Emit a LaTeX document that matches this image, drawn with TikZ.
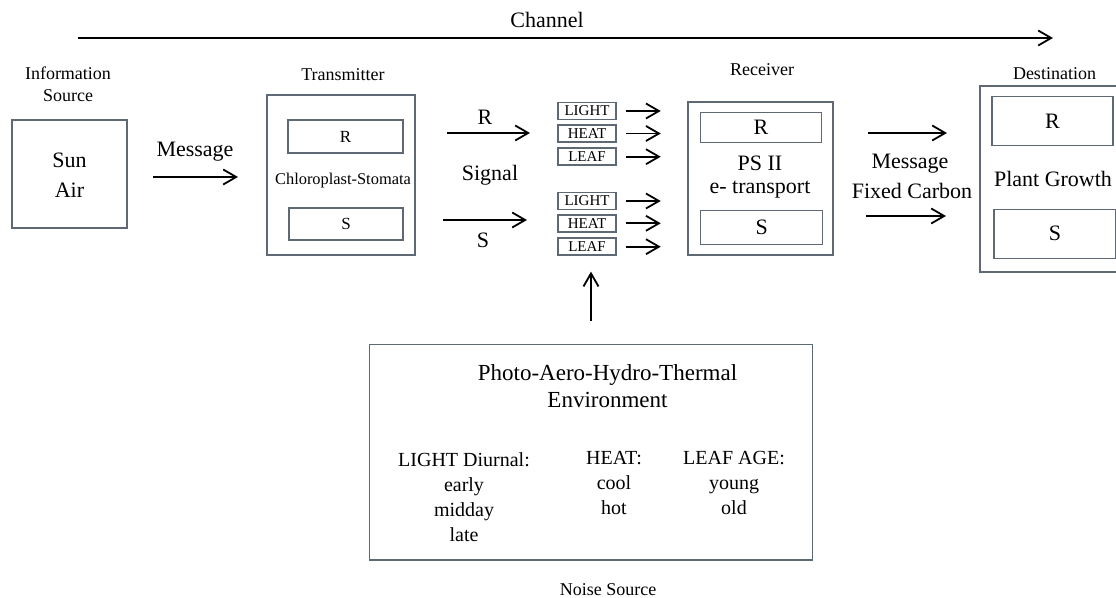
\documentclass[tikz,border=0pt]{standalone}
\usepackage{fontspec}
\setmainfont{Liberation Serif}
\usetikzlibrary{arrows.meta}

\begin{document}
\begin{tikzpicture}[x=0.5pt,y=-0.5pt]

  % Colour of the box outlines
  \definecolor{boxgray}{RGB}{95,105,118}

  \tikzset{
    box/.style={draw=boxgray, line width=0.75pt, inner sep=0pt},
    tag/.style={box, minimum width=29pt, minimum height=8.5pt, font=\fontsize{7.5}{8}\selectfont},
    arr/.style={-{Straight Barb[length=6.5pt,width=7.5pt]}, line width=0.9pt},
    big/.style={font=\fontsize{11}{15}\selectfont, align=center},
    mid/.style={font=\fontsize{9}{11}\selectfont, align=center},
    col/.style={font=\fontsize{10}{12.5}\selectfont, align=center, anchor=north}
  }

  \useasboundingbox (0,0) rectangle (1116,598);
  \clip (0,0) rectangle (1116,598);

  % Channel across the top
  \node[big] (channel) at (547,20) {Channel};
  \coordinate (chA) at (78,38);
  \coordinate (chB) at (1053,38);
  \draw[arr] (chA) -- (chB);

  % Information source
  \node[mid] (srclbl) at (68,84) {Information\\Source};
  \node[box, minimum width=57.5pt, minimum height=54pt] (src) at (69.5,174) {};
  \node[big] (srctxt) at (69.5,175) {Sun\\Air};

  % Message arrow
  \node[big] (msg) at (195,152) {Message};
  \coordinate (m1) at (153,177);
  \coordinate (m2) at (238,177);
  \draw[arr] (m1) -- (m2);

  % Transmitter
  \node[mid] (translbl) at (343,75) {Transmitter};
  \node[box, minimum width=74pt, minimum height=80pt] (trans) at (341,175) {};
  \node[box, minimum width=57.5pt, minimum height=16.5pt, font=\fontsize{8.5}{10}\selectfont] (transR) at (345.5,136.5) {R};
  \node[font=\fontsize{8.2}{10}\selectfont] (chloro) at (343,181) {Chloroplast-Stomata};
  \node[box, minimum width=57pt, minimum height=16pt, font=\fontsize{8.5}{10}\selectfont] (transS) at (346,224) {S};

  % Signal
  \node[big] (sigR) at (485,117) {R};
  \node[big] (sig) at (490,175) {Signal};
  \node[big] (sigS) at (483,240) {S};
  \coordinate (r1) at (447,133);
  \coordinate (r2) at (530,133);
  \coordinate (s1) at (443,220);
  \coordinate (s2) at (527,220);
  \draw[arr] (r1) -- (r2);
  \draw[arr] (s1) -- (s2);

  % Noise tags with their arrows
  \foreach \lbl/\yy [count=\i] in {LIGHT/111, HEAT/133.5, LEAF/156.7, LIGHT/201, HEAT/223.3, LEAF/246.7} {
    \node[tag] (tag\i) at (587,\yy) {\lbl};
    \draw[arr, shorten <=4.5pt] (tag\i.east) -- ++(44,0);
  }

  % Receiver
  \node[mid] (recvlbl) at (762,70) {Receiver};
  \node[box, minimum width=72.5pt, minimum height=76.5pt] (recv) at (760.5,178.3) {};
  \node[box, minimum width=60.5pt, minimum height=15pt, font=\fontsize{11}{13}\selectfont] (recvR) at (761,127.7) {R};
  \node[big] (ps) at (760,163) {PS II};
  \node[big] (etr) at (760,190) {e- transport};
  \node[box, minimum width=61pt, minimum height=16.8pt, font=\fontsize{11}{13}\selectfont] (recvS) at (761.7,227.5) {S};

  % Fixed carbon message
  \coordinate (f1) at (868,133);
  \coordinate (f2) at (947,133);
  \coordinate (f3) at (866,216);
  \coordinate (f4) at (946,216);
  \draw[arr] (f1) -- (f2);
  \draw[arr] (f3) -- (f4);
  \node[big] (msg2) at (910,164) {Message};
  \node[big] (fixc) at (912,191) {Fixed Carbon};

  % Destination
  \node[mid] (destlbl) at (1054.5,74) {Destination};
  \node[box, minimum width=73pt, minimum height=93pt] (dest) at (1053,179) {};
  \node[box, minimum width=60.5pt, minimum height=24.5pt, font=\fontsize{11}{13}\selectfont] (destR) at (1052.5,121.2) {R};
  \node[big] (plant) at (1053,179) {Plant Growth};
  \node[box, minimum width=61pt, minimum height=24.5pt, font=\fontsize{11}{13}\selectfont] (destS) at (1055,233.8) {S};

  % Noise source
  \node[box, minimum width=221.7pt, minimum height=107.8pt] (noise) at (591,452.2) {};
  \draw[arr, shorten <=11.5pt] (noise.north) -- ++(0,-72);
  \node[font=\fontsize{11.5}{13.5}\selectfont, align=center] (env) at (607.5,386) {Photo-Aero-Hydro-Thermal\\Environment};
  \node[col] (light) at (464,446) {LIGHT Diurnal:\\early\\midday\\late};
  \node[col] (heat) at (614,444) {HEAT:\\cool\\hot};
  \node[col] (leaf) at (734,444) {LEAF AGE:\\young\\old};
  \node[mid] (noiselbl) at (608,590) {Noise Source};

\end{tikzpicture}
\end{document}
